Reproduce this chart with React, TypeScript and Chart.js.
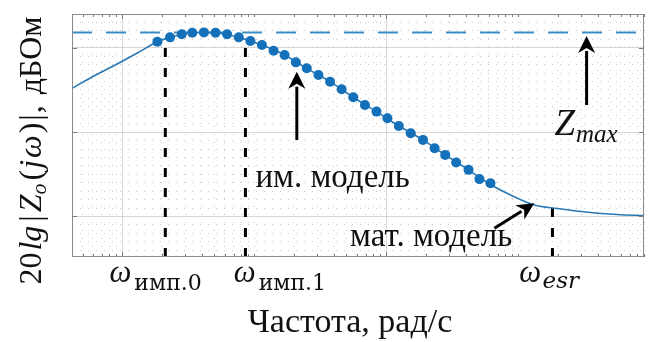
import React, { useEffect, useRef } from "react";
import { Chart, registerables } from "chart.js";

Chart.register(...registerables);

// ---------------- data ----------------
const xRange = [41.6, 9.0e5];
const yRange = [15.2, 44];
const xMajorTicks = [1e2, 1e4];
const yMajorTicks = [20, 30, 40];

// mathematical model (thin line)
const modelOmega = [41.6, 60, 90, 130, 184.7, 230, 340, 416, 510, 764, 1145, 1700, 2500, 3760, 5635, 8450, 12470, 19020, 28030, 42100, 61700, 90900, 132600, 198600, 352300, 563700, 900000];
const modelDb = [35.19, 36.59, 38.01, 39.37, 40.71, 41.23, 41.78, 41.82, 41.78, 41.23, 40.32, 39.14, 37.56, 35.98, 34.13, 32.43, 30.73, 29.08, 27.3, 25.53, 23.8, 22.43, 21.37, 20.95, 20.47, 20.24, 20.1];

// simulation model (markers)
const simOmega = [184.7, 230.2, 282.2, 339.3, 415.7, 509.5, 623.3, 763.8, 936, 1145, 1403, 1699, 2068, 2503, 3068, 3760, 4598, 5635, 6906, 8450, 10227, 12470, 15360, 19020, 23310, 28030, 33930, 42100, 50950, 61700];
const simDb = [40.71, 41.23, 41.59, 41.78, 41.82, 41.78, 41.59, 41.23, 40.79, 40.32, 39.64, 39.14, 38.27, 37.56, 36.77, 35.98, 35.08, 34.13, 33.22, 32.43, 31.64, 30.73, 29.87, 29.08, 28.09, 27.3, 26.39, 25.53, 24.43, 23.95];

const zMaxDb = 41.8;

// vertical frequency markers
const markerSub = ["имп.0", "имп.1", "esr"];
const markerOmega = [212, 858, 182100];
const markerTopDb = [41.0, 41.15, 21.13];
const markerLabelOmega = [80, 700, 102000];

// arrows
const arrowFromOmega = [2104, 330600, 66140];
const arrowFromDb = [29.07, 33.21, 18.6];
const arrowToOmega = [2104, 330600, 132600];
const arrowToDb = [37.16, 41.39, 21.56];

// notes
const noteText = ["им. модель", "мат. модель"];
const noteOmega = [1021, 5321];
const noteDb = [23.46, 16.56];
const zMaxLabelOmega = 188600;
const zMaxLabelDb = 29.66;

const xTitle = "Частота, рад/с";

// ---------------- helpers ----------------
const LS = '"Liberation Serif", serif';
const DS = '"DejaVu Serif", serif';

function xTickValues(): number[] {
  const out: number[] = [];
  for (let e = 1; e <= 5; e++) {
    for (let n = 1; n <= 9; n++) {
      const v = n * Math.pow(10, e);
      if (v >= xRange[0] && v <= xRange[1]) out.push(v);
    }
  }
  return out;
}
function yTickValues(): number[] {
  const out: number[] = [];
  for (let v = Math.ceil(yRange[0]); v <= Math.floor(yRange[1]); v++) out.push(v);
  return out;
}
const isMajorX = (v: number) => xMajorTicks.some((m) => Math.abs(v - m) / m < 1e-6);
const isMajorY = (v: number) => yMajorTicks.includes(v);

type Seg = { t: string; f: string; dy?: number; dx?: number };
function richWidth(ctx: CanvasRenderingContext2D, segs: Seg[]) {
  let w = 0;
  for (const s of segs) {
    ctx.font = s.f;
    w += ctx.measureText(s.t).width + (s.dx || 0);
  }
  return w;
}
function drawRich(ctx: CanvasRenderingContext2D, segs: Seg[], x: number, y: number) {
  let cx = x;
  for (const s of segs) {
    ctx.font = s.f;
    cx += s.dx || 0;
    ctx.fillText(s.t, cx, y + (s.dy || 0));
    cx += ctx.measureText(s.t).width;
  }
}
function drawArrow(ctx: CanvasRenderingContext2D, x1: number, y1: number, x2: number, y2: number) {
  const dx = x2 - x1, dy = y2 - y1;
  const L = Math.hypot(dx, dy);
  const ux = dx / L, uy = dy / L;
  const hl = 17, hw = 8.5;
  const bx = x2 - ux * hl, by = y2 - uy * hl;
  ctx.beginPath();
  ctx.moveTo(x1, y1);
  ctx.lineTo(bx + ux * 2, by + uy * 2);
  ctx.lineWidth = 3;
  ctx.strokeStyle = "#000";
  ctx.stroke();
  ctx.beginPath();
  ctx.moveTo(x2, y2);
  ctx.lineTo(bx - uy * hw, by + ux * hw);
  ctx.lineTo(bx + ux * 5, by + uy * 5);
  ctx.lineTo(bx + uy * hw, by - ux * hw);
  ctx.closePath();
  ctx.fillStyle = "#000";
  ctx.fill();
}

const overlayPlugin = {
  id: "overlay",
  afterDraw(chart: any) {
    const { ctx, chartArea: a, scales } = chart;
    const x = scales.x, y = scales.y;
    ctx.save();
    // inward ticks
    ctx.strokeStyle = "#7a7a7a";
    ctx.lineWidth = 1;
    ctx.beginPath();
    for (const t of x.ticks) {
      const px = Math.round(x.getPixelForValue(t.value)) + 0.5;
      const len = isMajorX(t.value) ? 5 : 3;
      ctx.moveTo(px, a.bottom);
      ctx.lineTo(px, a.bottom - len);
      ctx.moveTo(px, a.top);
      ctx.lineTo(px, a.top + len);
    }
    for (const v of yMajorTicks) {
      const py = Math.round(y.getPixelForValue(v)) + 0.5;
      ctx.moveTo(a.left, py);
      ctx.lineTo(a.left + 5, py);
      ctx.moveTo(a.right, py);
      ctx.lineTo(a.right - 5, py);
    }
    ctx.stroke();
    // box
    ctx.strokeStyle = "#8a8a8a";
    ctx.strokeRect(Math.round(a.left) + 0.5, Math.round(a.top) + 0.5, Math.round(a.right - a.left) - 1, Math.round(a.bottom - a.top) - 1);

    // arrows
    for (let i = 0; i < arrowFromOmega.length; i++) {
      drawArrow(
        ctx,
        x.getPixelForValue(arrowFromOmega[i]),
        y.getPixelForValue(arrowFromDb[i]),
        x.getPixelForValue(arrowToOmega[i]),
        y.getPixelForValue(arrowToDb[i])
      );
    }

    ctx.fillStyle = "#111";
    ctx.textBaseline = "alphabetic";
    ctx.textAlign = "left";
    // notes
    ctx.font = `33px ${LS}`;
    for (let i = 0; i < noteText.length; i++) {
      ctx.fillText(noteText[i], x.getPixelForValue(noteOmega[i]), y.getPixelForValue(noteDb[i]));
    }
    // Z_max
    drawRich(
      ctx,
      [
        { t: "Z", f: `italic 37px ${LS}` },
        { t: "max", f: `italic 25px ${LS}`, dy: 6.7, dx: 1 },
      ],
      x.getPixelForValue(zMaxLabelOmega),
      y.getPixelForValue(zMaxLabelDb)
    );
    // x marker labels
    for (let i = 0; i < markerSub.length; i++) {
      const px = x.getPixelForValue(markerLabelOmega[i]);
      const base = a.bottom + 24.5;
      const sub: Seg =
        i < 2
          ? { t: markerSub[i], f: `22px ${DS}`, dy: 8.3, dx: 3 }
          : { t: markerSub[i], f: `italic 23px ${DS}`, dy: 6.6, dx: 1.5 };
      drawRich(ctx, [{ t: "ω", f: `italic 31px ${LS}` }, sub], px, base);
    }
    // x title
    ctx.font = `34px ${LS}`;
    ctx.textAlign = "center";
    ctx.fillText(xTitle, (a.left + a.right) / 2 - 8, a.bottom + 74.7);
    ctx.textAlign = "left";
    // y title
    const ysegs: Seg[] = [
      { t: "20", f: `32px ${LS}` },
      { t: "lg", f: `italic 32px ${LS}`, dx: 2 },
      { t: "|", f: `32px ${LS}`, dx: 4 },
      { t: "Z", f: `italic 32px ${LS}`, dx: 3 },
      { t: "o", f: `italic 22px ${LS}`, dy: 5 },
      { t: "(", f: `32px ${LS}`, dx: 3 },
      { t: "j", f: `italic 32px ${LS}`, dx: 1 },
      { t: "ω", f: `italic 32px ${LS}`, dx: 2 },
      { t: ")", f: `32px ${LS}`, dx: 2 },
      { t: "|", f: `32px ${LS}`, dx: 2 },
      { t: ",", f: `32px ${LS}`, dx: 1 },
      { t: " дБОм", f: `32px ${LS}`, dx: 3 },
    ];
    const w = richWidth(ctx, ysegs);
    ctx.translate(41, (a.top + a.bottom) / 2 + 15);
    ctx.rotate(-Math.PI / 2);
    drawRich(ctx, ysegs, -w / 2, 0);
    ctx.restore();
  },
};

export default function App() {
  const ref = useRef<HTMLCanvasElement | null>(null);
  useEffect(() => {
    document.body.style.margin = "0";
    const canvas = ref.current!;
    const line = (xs: number[], ys: number[]) => xs.map((v, i) => ({ x: v, y: ys[i] }));
    const datasets: any[] = [
      {
        data: line(simOmega, simDb),
        showLine: false,
        pointRadius: 5,
        pointBackgroundColor: "#1470b9",
        pointBorderWidth: 0,
        order: 0,
      },
      {
        data: line(modelOmega, modelDb),
        borderColor: "#2a78b3",
        borderWidth: 1.6,
        pointRadius: 0,
        cubicInterpolationMode: "monotone",
        order: 1,
      },
      ...markerOmega.map((w, i) => ({
        data: [
          { x: w, y: yRange[0] },
          { x: w, y: markerTopDb[i] },
        ],
        borderColor: "#000",
        borderWidth: 3,
        borderDash: [9, 11],
        pointRadius: 0,
        order: 2,
      })),
      {
        data: [
          { x: xRange[0], y: zMaxDb },
          { x: xRange[1], y: zMaxDb },
        ],
        borderColor: "#3a8dc4",
        borderWidth: 2,
        borderDash: [20, 14],
        pointRadius: 0,
        order: 3,
      },
    ];
    const chart = new Chart(canvas, {
      type: "line",
      data: { datasets },
      options: {
        animation: false,
        responsive: false,
        devicePixelRatio: 1,
        layout: { padding: { left: 72, top: 14, right: 2, bottom: 85 } },
        plugins: { legend: { display: false }, tooltip: { enabled: false } },
        scales: {
          x: {
            type: "logarithmic",
            min: xRange[0],
            max: xRange[1],
            afterBuildTicks: (s: any) => {
              s.ticks = xTickValues().map((v) => ({ value: v }));
            },
            ticks: { display: false },
            grid: {
              drawTicks: false,
              color: (c: any) => (c.tick && isMajorX(c.tick.value) ? "#d6d6d6" : "#cbcbcb"),
            },
            border: {
              display: false,
              dash: (c: any) => (c.tick && !isMajorX(c.tick.value) ? [1, 7] : []),
            },
          },
          y: {
            type: "linear",
            min: yRange[0],
            max: yRange[1],
            afterBuildTicks: (s: any) => {
              s.ticks = yTickValues().map((v) => ({ value: v }));
            },
            ticks: { display: false },
            grid: {
              drawTicks: false,
              color: (c: any) => (c.tick && isMajorY(c.tick.value) ? "#d6d6d6" : "#cbcbcb"),
            },
            border: {
              display: false,
              dash: (c: any) => (c.tick && !isMajorY(c.tick.value) ? [1, 7] : []),
            },
          },
        },
      },
      plugins: [overlayPlugin],
    } as any);
    return () => chart.destroy();
  }, []);
  return (
    <div style={{ width: 649, height: 342 }}>
      <canvas ref={ref} width={649} height={342} style={{ display: "block" }} />
    </div>
  );
}
